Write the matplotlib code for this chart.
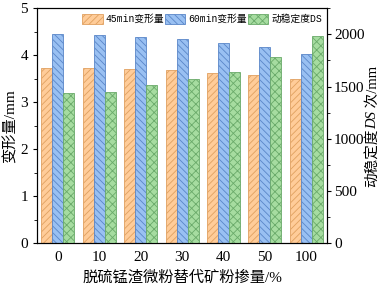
import numpy as np
import matplotlib
matplotlib.use("Agg")
import matplotlib.pyplot as plt

plt.rcParams['font.family'] = ['Liberation Serif', 'Noto Sans CJK SC']
plt.rcParams['hatch.linewidth'] = 0.6

categories = ['0', '10', '20', '30', '40', '50', '100']
def45 = [3.72, 3.72, 3.70, 3.68, 3.62, 3.58, 3.50]
def60 = [4.45, 4.44, 4.39, 4.35, 4.27, 4.17, 4.03]
ds = [1436, 1446, 1513, 1570, 1637, 1781, 1982]

x = np.arange(len(categories))
w = 0.265

fig = plt.figure(figsize=(3.83, 2.87), dpi=100)
ax = fig.add_axes([0.097, 0.153, 0.757, 0.818])
ax2 = ax.twinx()

b1 = ax.bar(x - w, def45, w, color='#FFCC99', edgecolor='#E0A060', hatch='/////', linewidth=0.6,
            label='45min变形量')
b2 = ax.bar(x, def60, w, color='#99C0F2', edgecolor='#5A86C8', hatch='\\\\\\\\\\', linewidth=0.6,
            label='60min变形量')
b3 = ax2.bar(x + w, ds, w, color='#A6DCA0', edgecolor='#6AAA6A', hatch='xxxx', linewidth=0.6,
             label='动稳定度DS')

ax.set_xlim(-0.5, 6.5)
ax.set_ylim(0, 5)
ax2.set_ylim(0, 2250)
ax.set_xticks(x)
ax.set_xticklabels(categories)
ax.set_yticks([0, 1, 2, 3, 4, 5])
ax.set_yticks(np.arange(0.5, 5, 1), minor=True)
ax2.set_yticks([0, 500, 1000, 1500, 2000])
ax2.set_yticks([250, 750, 1250, 1750, 2250], minor=True)

for a in (ax, ax2):
    a.tick_params(labelsize=11, width=0.8, length=3)
    a.tick_params(which='minor', length=2, width=0.6)
ax.tick_params(axis='x', length=0, pad=6)
ax2.tick_params(axis='y', pad=2)

ax.set_xlabel('脱硫锰渣微粉替代矿粉掺量/%', fontsize=11, labelpad=4)
ax.set_ylabel('变形量/mm', fontsize=11, labelpad=2)

# right label in pieces so DS can be italic
pieces = [('动稳定度', 'normal'), ('DS', 'italic'), (' 次/mm', 'normal')]
texts = []
for s, st in pieces:
    texts.append(fig.text(0.974, 0.5, s, rotation=90, fontsize=10.5, style=st,
                          ha='center', va='bottom'))
fig.canvas.draw()
r = fig.canvas.get_renderer()
heights = [t.get_window_extent(r).height for t in texts]
total = sum(heights)
y0 = 0.56 * fig.bbox.height - total / 2
for t, h in zip(texts, heights):
    t.set_y(y0 / fig.bbox.height)
    y0 += h

leg = ax.legend(handles=[b1, b2, b3], loc='upper left', ncol=3, frameon=False,
                bbox_to_anchor=(0.135, 1.0), handlelength=2.1, handleheight=1.1,
                columnspacing=0.1, handletextpad=0.3, borderaxespad=0.0, borderpad=0.6,
                prop={'family': ['Liberation Mono', 'Noto Sans CJK SC'], 'size': 7})

fig.savefig('out.png', dpi=100)
